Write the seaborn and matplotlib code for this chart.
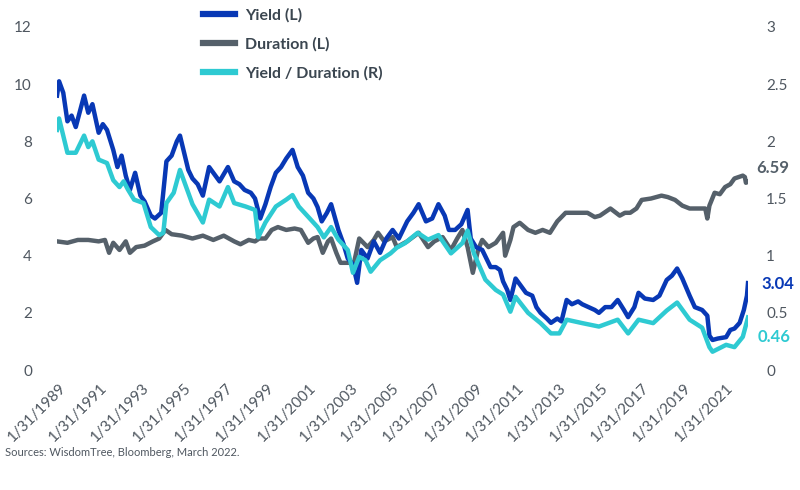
import numpy as np
import pandas as pd
import matplotlib.pyplot as plt
from matplotlib.lines import Line2D
import seaborn as sns

# values (decimal year, value)
yield_t = [1989.0, 1989.1, 1989.3, 1989.5, 1989.7, 1989.9, 1990.3, 1990.5, 1990.7, 1991.0,
           1991.2, 1991.4, 1991.7, 1991.9, 1992.1, 1992.3, 1992.5, 1992.75, 1993.0, 1993.2,
           1993.5, 1993.7, 1994.0, 1994.25, 1994.5, 1994.75, 1994.9, 1995.1, 1995.3, 1995.5,
           1995.75, 1996.0, 1996.3, 1996.5, 1996.8, 1997.2, 1997.5, 1997.75, 1998.0, 1998.3,
           1998.5, 1998.75, 1999.0, 1999.25, 1999.5, 1999.75, 2000.0, 2000.3, 2000.55, 2000.8,
           2001.05, 2001.3, 2001.5, 2001.7, 2001.95, 2002.15, 2002.5, 2002.75, 2002.95, 2003.2,
           2003.4, 2003.6, 2003.9, 2004.2, 2004.5, 2004.8, 2005.1, 2005.4, 2005.8, 2006.1,
           2006.35, 2006.7, 2007.0, 2007.3, 2007.6, 2007.8, 2008.1, 2008.4, 2008.7, 2008.85,
           2009.1, 2009.4, 2009.6, 2009.8, 2010.05, 2010.25, 2010.4, 2010.6, 2010.75, 2011.0,
           2011.2, 2011.5, 2011.8, 2012.0, 2012.2, 2012.5, 2012.7, 2013.0, 2013.2, 2013.45,
           2013.7, 2014.0, 2014.2, 2014.5, 2014.8, 2015.0, 2015.3, 2015.6, 2015.9, 2016.2,
           2016.4, 2016.7, 2016.9, 2017.2, 2017.6, 2017.9, 2018.25, 2018.5, 2018.75, 2019.0,
           2019.35, 2019.6, 2019.95, 2020.2, 2020.3, 2020.45, 2020.7, 2021.1, 2021.3, 2021.5,
           2021.75, 2021.95, 2022.1, 2022.15]
yield_v = [9.6, 10.1, 9.7, 8.7, 8.9, 8.5, 9.6, 9.0, 9.3, 8.3,
           8.6, 8.4, 7.7, 7.1, 7.5, 6.8, 6.3, 6.9, 6.1, 5.9,
           5.4, 5.3, 5.5, 7.3, 7.5, 8.0, 8.2, 7.6, 7.0, 6.7,
           6.5, 6.1, 7.1, 6.9, 6.6, 7.1, 6.6, 6.5, 6.3, 6.2,
           6.0, 5.3, 5.8, 6.4, 6.9, 7.1, 7.4, 7.7, 7.1, 6.8,
           6.2, 6.0, 5.7, 5.2, 5.5, 5.8, 4.9, 4.4, 3.9, 3.7,
           3.05, 4.2, 3.9, 4.5, 4.1, 4.6, 4.9, 4.6, 5.2, 5.5,
           5.8, 5.2, 5.3, 5.8, 5.4, 4.9, 4.9, 5.1, 5.6, 4.6,
           4.3, 4.2, 3.9, 3.6, 3.6, 3.5, 3.1, 2.8, 2.45, 3.2,
           3.0, 2.7, 2.6, 2.2, 2.0, 1.8, 1.65, 1.8, 1.7, 2.45,
           2.3, 2.4, 2.3, 2.2, 2.1, 2.0, 2.2, 2.2, 2.45, 2.1,
           1.85, 2.2, 2.7, 2.5, 2.45, 2.6, 3.15, 3.3, 3.55, 3.2,
           2.6, 2.2, 2.1, 1.9, 1.2, 1.05, 1.1, 1.15, 1.4, 1.45,
           1.65, 2.1, 2.6, 3.04]

dur_t = [1989.0, 1989.5, 1990.0, 1990.5, 1991.0, 1991.3, 1991.5, 1991.7, 1992.0, 1992.3,
         1992.5, 1992.8, 1993.2, 1993.6, 1993.9, 1994.2, 1994.5, 1995.0, 1995.5, 1996.0,
         1996.5, 1997.0, 1997.5, 1997.8, 1998.2, 1998.5, 1998.7, 1999.0, 1999.3, 1999.6,
         2000.0, 2000.4, 2000.7, 2001.05, 2001.3, 2001.5, 2001.75, 2002.0, 2002.15, 2002.4,
         2002.6, 2003.0, 2003.25, 2003.5, 2003.9, 2004.2, 2004.4, 2004.7, 2005.1, 2005.3,
         2005.8, 2006.35, 2006.8, 2007.1, 2007.5, 2007.9, 2008.2, 2008.45, 2008.7, 2008.95,
         2009.2, 2009.4, 2009.7, 2010.05, 2010.4, 2010.5, 2010.75, 2010.9, 2011.2, 2011.6,
         2011.95, 2012.3, 2012.65, 2013.0, 2013.4, 2013.9, 2014.45, 2014.8, 2015.05, 2015.55,
         2016.0, 2016.25, 2016.5, 2016.8, 2017.05, 2017.5, 2018.0, 2018.3, 2018.65, 2019.0,
         2019.35, 2019.8, 2020.1, 2020.2, 2020.3, 2020.55, 2020.8, 2021.05, 2021.3, 2021.5,
         2021.9, 2022.0, 2022.05, 2022.15]
dur_v = [4.5, 4.45, 4.55, 4.55, 4.5, 4.55, 4.1, 4.45, 4.2, 4.5,
         4.1, 4.3, 4.35, 4.5, 4.6, 4.9, 4.75, 4.7, 4.6, 4.7,
         4.55, 4.7, 4.5, 4.4, 4.55, 4.5, 4.6, 4.6, 4.9, 5.0,
         4.9, 4.95, 4.9, 4.45, 4.6, 4.65, 4.1, 4.5, 4.6, 4.1,
         3.75, 3.75, 3.75, 4.6, 4.3, 4.55, 4.8, 4.5, 4.65, 4.3,
         4.5, 4.8, 4.3, 4.5, 4.65, 4.2, 4.6, 4.9, 4.3, 3.4,
         4.2, 4.55, 4.3, 4.45, 4.8, 4.0, 4.55, 5.0, 5.15, 4.9,
         4.8, 4.9, 4.8, 5.2, 5.5, 5.5, 5.5, 5.35, 5.4, 5.65,
         5.4, 5.5, 5.5, 5.65, 5.95, 6.0, 6.1, 6.05, 5.95, 5.75,
         5.65, 5.65, 5.65, 5.3, 5.75, 6.2, 6.15, 6.4, 6.5, 6.7,
         6.8, 6.75, 6.55, 6.59]

ratio_t = [1989.0, 1989.1, 1989.3, 1989.5, 1989.9, 1990.3, 1990.5, 1990.7, 1991.0, 1991.4,
           1991.7, 1992.0, 1992.2, 1992.4, 1992.7, 1993.15, 1993.5, 1993.9, 1994.1, 1994.25,
           1994.6, 1994.9, 1995.2, 1995.5, 1996.0, 1996.3, 1996.8, 1997.2, 1997.5, 1998.05,
           1998.5, 1998.65, 1999.0, 1999.5, 2000.0, 2000.3, 2000.6, 2001.05, 2001.5, 2001.8,
           2002.15, 2002.5, 2002.95, 2003.2, 2003.5, 2003.8, 2004.05, 2004.5, 2005.0, 2005.3,
           2005.7, 2006.3, 2006.8, 2007.3, 2007.9, 2008.45, 2008.7, 2009.0, 2009.55, 2010.05,
           2010.4, 2010.75, 2011.0, 2011.6, 2012.2, 2012.7, 2013.1, 2013.45, 2014.2, 2015.0,
           2015.9, 2016.4, 2016.9, 2017.6, 2018.25, 2018.75, 2019.35, 2019.95, 2020.3, 2020.45,
           2021.1, 2021.5, 2021.9, 2022.15]
ratio_v = [2.1, 2.2, 2.05, 1.9, 1.9, 2.05, 1.95, 2.0, 1.84, 1.81,
           1.66, 1.6, 1.65, 1.58, 1.49, 1.46, 1.25, 1.18, 1.2, 1.46,
           1.55, 1.75, 1.6, 1.45, 1.29, 1.49, 1.43, 1.6, 1.46, 1.43,
           1.4, 1.16, 1.29, 1.43, 1.49, 1.53, 1.43, 1.34, 1.25, 1.16,
           1.25, 1.14, 1.05, 0.85, 0.99, 0.96, 0.86, 0.96, 1.02, 1.07,
           1.11, 1.2, 1.14, 1.18, 1.02, 1.11, 1.22, 1.02, 0.79, 0.7,
           0.66, 0.51, 0.64, 0.5, 0.41, 0.32, 0.32, 0.44, 0.41, 0.38,
           0.44, 0.32, 0.44, 0.41, 0.52, 0.59, 0.44, 0.37, 0.2, 0.16,
           0.22, 0.2, 0.29, 0.46]

tick_years = list(range(1989, 2022, 2))
labels = ['Yield (L)', 'Duration (L)', 'Yield / Duration (R)']
c_yield, c_dur, c_ratio = '#0838b5', '#55606a', '#2ecad2'
txt = '#4f5760'


def to_date(years):
    years = np.asarray(years, dtype=float)
    base = pd.to_datetime(np.floor(years).astype(int).astype(str), format='%Y')
    return base + pd.to_timedelta((years - np.floor(years)) * 365.25, unit='D')


plt.rcParams['font.family'] = ['Lato', 'DejaVu Sans']

fig = plt.figure(figsize=(8, 4.9), dpi=100)
ax = fig.add_axes([57 / 800, 1 - 370 / 490, (748 - 57) / 800, (370 - 27) / 490])
ax2 = ax.twinx()

sns.lineplot(x=to_date(dur_t), y=dur_v, ax=ax, color=c_dur, lw=3.2)
sns.lineplot(x=to_date(yield_t), y=yield_v, ax=ax, color=c_yield, lw=3.2)
sns.lineplot(x=to_date(ratio_t), y=ratio_v, ax=ax2, color=c_ratio, lw=3.2)

ax.set_ylim(0, 12)
ax2.set_ylim(0, 3)
ax.set_yticks(range(0, 13, 2))
ax2.set_yticks([0, 0.5, 1, 1.5, 2, 2.5, 3])
ax2.set_yticklabels(['0', '0.5', '1', '1.5', '2', '2.5', '3'])
ax.set_xlim(to_date([1989.0])[0], to_date([2022.15])[0])

ticks = pd.to_datetime([f'{y}-01-31' for y in tick_years])
ax.set_xticks(ticks)
ax.set_xticklabels([f'1/31/{y}' for y in tick_years], rotation=45, ha='right',
                   rotation_mode='anchor', fontsize=10, color=txt)

for a in (ax, ax2):
    for s in a.spines.values():
        s.set_visible(False)
    a.tick_params(length=0, labelsize=11, labelcolor=txt)
    a.set_xlabel('')
    a.set_ylabel('')
    a.grid(False)
ax.tick_params(axis='y', pad=18)
ax2.tick_params(axis='y', pad=13)
ax.tick_params(axis='x', pad=8)

# end labels
end = to_date([2022.15])[0]
ax.annotate('6.59', (end, 6.59), xytext=(6, 10), textcoords='offset points',
            color=c_dur, fontsize=12, fontweight='bold', va='center')
ax.annotate('3.04', (end, 3.04), xytext=(10, -1), textcoords='offset points',
            color=c_yield, fontsize=12, fontweight='bold', va='center')
ax2.annotate('0.46', (end, 0.46), xytext=(7, -14), textcoords='offset points',
             color=c_ratio, fontsize=12, fontweight='bold', va='center')

handles = [Line2D([], [], color=c, lw=4.5) for c in (c_yield, c_dur, c_ratio)]
leg = fig.legend(handles, labels, loc='upper left', bbox_to_anchor=(189 / 800, 1.013),
                 frameon=False, handlelength=2.0, handletextpad=0.6, labelspacing=0.9,
                 prop={'size': 11.5, 'weight': 'bold'})
for t in leg.get_texts():
    t.set_color('#3b4650')

fig.text(5 / 800, 1 - 452 / 490, 'Sources: WisdomTree, Bloomberg, March 2022.',
         fontsize=8, color=txt, va='center')

fig.savefig('out.png', dpi=100, facecolor='white')
